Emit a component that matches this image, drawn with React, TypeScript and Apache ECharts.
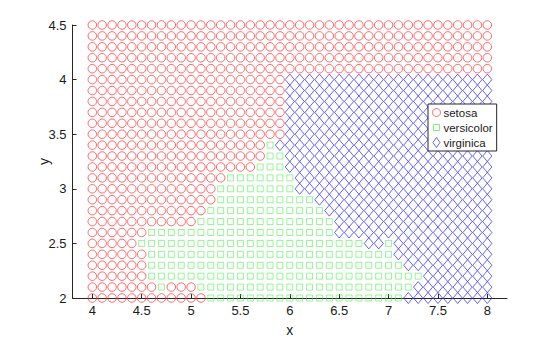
import React, { useEffect, useRef } from "react";
import * as echarts from "echarts";

// Grid of predicted classes (x = 4:0.1:8, y = 4.5 down to 2.0)
const xValues = [
  4.0, 4.1, 4.2, 4.3, 4.4, 4.5, 4.6, 4.7, 4.8, 4.9,
  5.0, 5.1, 5.2, 5.3, 5.4, 5.5, 5.6, 5.7, 5.8, 5.9,
  6.0, 6.1, 6.2, 6.3, 6.4, 6.5, 6.6, 6.7, 6.8, 6.9,
  7.0, 7.1, 7.2, 7.3, 7.4, 7.5, 7.6, 7.7, 7.8, 7.9, 8.0,
];
const yValues = [
  4.5, 4.4, 4.3, 4.2, 4.1, 4.0, 3.9, 3.8, 3.7, 3.6, 3.5, 3.4, 3.3,
  3.2, 3.1, 3.0, 2.9, 2.8, 2.7, 2.6, 2.5, 2.4, 2.3, 2.2, 2.1, 2.0,
];
// run-length encoded class per row (o = setosa, s = versicolor, d = virginica)
const rowRuns = [
  "o41",
  "o41",
  "o41",
  "o41",
  "o41",
  "o20 d21",
  "o20 d21",
  "o20 d21",
  "o20 d21",
  "o20 d21",
  "o20 d21",
  "o18 s1 d22",
  "o18 s2 d21",
  "o17 s3 d21",
  "o14 s7 d20",
  "o13 s8 d20",
  "o13 s10 d18",
  "o12 s12 d17",
  "o11 s14 d16",
  "o6 s19 d16",
  "o5 s23 d2 s1 d10",
  "o6 s25 d10",
  "o6 s26 d9",
  "o6 s28 d7",
  "o7 s1 o3 s22 d8",
  "o12 s20 d9",
];
const classNames = ["setosa", "versicolor", "virginica"];
const classCodes = ["o", "s", "d"];

// axis limits and tick labels
const xLimits = [3.8, 8.2];
const xTicks = [4, 4.5, 5, 5.5, 6, 6.5, 7, 7.5, 8];
const yLimits = [2, 4.5];

function buildPoints(): number[][][] {
  const out: number[][][] = [[], [], []];
  rowRuns.forEach((row, i) => {
    let k = 0;
    row.split(" ").forEach((run) => {
      const code = run[0];
      const n = parseInt(run.slice(1), 10);
      const ci = classCodes.indexOf(code);
      for (let j = 0; j < n; j++) {
        out[ci].push([xValues[k], yValues[i]]);
        k++;
      }
    });
  });
  return out;
}

const FONT = "'Liberation Sans', Arial, Helvetica, sans-serif";
const TXT = "#1a1a1a";
const AX = "#262626";

export default function App() {
  const ref = useRef<HTMLDivElement>(null);
  useEffect(() => {
    if (!ref.current) return;
    const chart = echarts.init(ref.current, undefined, { renderer: "svg" });
    const pts = buildPoints();
    const symbols = ["circle", "rect", "path://M0,-1L1,0L0,1L-1,0Z"];
    const legendIcons = [
      "path://M0,0M10,10M5,1A4,4,0,1,1,4.999,1Z",
      "path://M0,0M10,10M2,2L8,2L8,8L2,8Z",
      "path://M0,0M10,10M5,0L8.5,5L5,10L1.5,5Z",
    ];
    const sizes: any[] = [8.5, 6, [9.2, 11]];
    const colors = ["#ff3030", "#40ee40", "#2828ff"];
    const widths = [0.9, 0.7, 0.9];
    chart.setOption({
      animation: false,
      backgroundColor: "#ffffff",
      textStyle: { fontFamily: FONT },
      grid: {
        left: 72.55,
        right: 52.95,
        top: 25,
        bottom: 39,
        containLabel: false,
        outerBoundsMode: "none",
      },
      legend: {
        orient: "vertical",
        left: 428,
        top: 104,
        data: classNames.map((name, i) => ({
          name,
          icon: legendIcons[i],
          itemStyle: {
            color: "transparent",
            borderColor: colors[i],
            borderWidth: 0.9,
          },
        })),
        backgroundColor: "#ffffff",
        borderColor: AX,
        borderWidth: 1,
        borderRadius: 0,
        padding: [2, 4, 2, 3],
        itemGap: 2,
        itemWidth: 10,
        itemHeight: 10,
        textStyle: {
          fontFamily: FONT,
          fontSize: 11.5,
          color: TXT,
          lineHeight: 13,
          padding: [0, 0, 0, -3],
        },
      },
      xAxis: {
        type: "value",
        min: xLimits[0],
        max: xLimits[1],
        name: "x",
        nameLocation: "middle",
        nameGap: 25,
        nameMoveOverlap: false,
        nameTextStyle: { fontFamily: FONT, fontSize: 14, color: TXT },
        axisLine: { show: true, onZero: false, lineStyle: { color: AX, width: 1 } },
        axisTick: {
          show: true,
          inside: true,
          length: 4,
          customValues: xTicks,
          lineStyle: { color: AX },
        },
        axisLabel: {
          fontFamily: FONT,
          fontSize: 13,
          color: TXT,
          margin: 6,
          customValues: xTicks,
        },
        splitLine: { show: false },
      },
      yAxis: {
        type: "value",
        min: yLimits[0],
        max: yLimits[1],
        interval: 0.5,
        name: "y",
        nameLocation: "middle",
        nameGap: 22,
        nameMoveOverlap: false,
        nameTextStyle: { fontFamily: FONT, fontSize: 14, color: TXT },
        axisLine: { show: true, onZero: false, lineStyle: { color: AX, width: 1 } },
        axisTick: { show: true, inside: true, length: 4, lineStyle: { color: AX } },
        axisLabel: { fontFamily: FONT, fontSize: 13, color: TXT, margin: 6 },
        splitLine: { show: false },
      },
      series: classNames.map((name, i) => ({
        name,
        type: "scatter",
        data: pts[i],
        symbol: symbols[i],
        symbolSize: sizes[i],
        itemStyle: {
          color: "transparent",
          borderColor: colors[i],
          borderWidth: widths[i],
        },
        emphasis: { disabled: true },
        z: 2,
      })),
    });
    return () => chart.dispose();
  }, []);
  return (
    <div
      ref={ref}
      style={{ position: "absolute", left: 0, top: 0, width: 560, height: 337 }}
    />
  );
}
